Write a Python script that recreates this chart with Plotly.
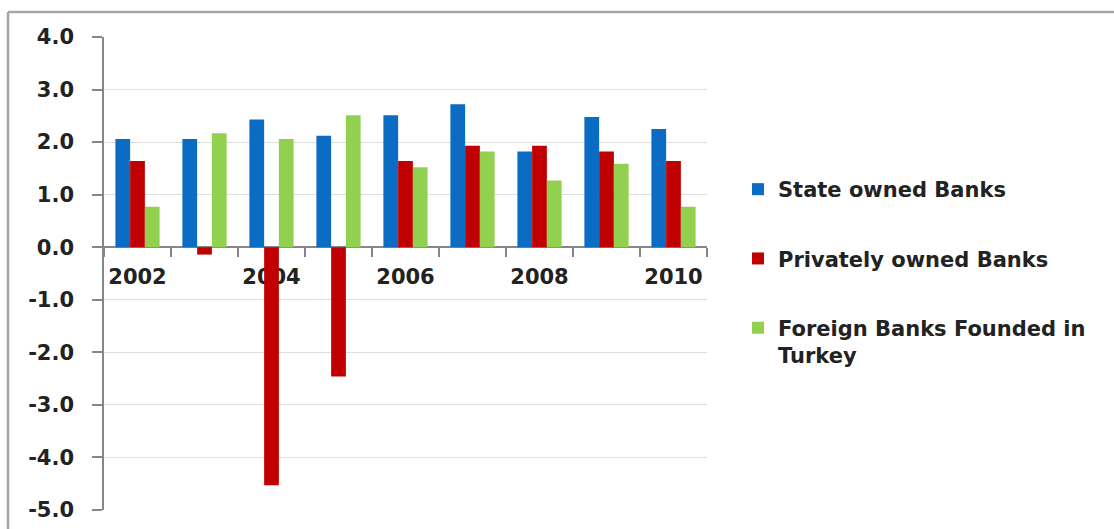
import plotly.graph_objects as go

years = ["2002", "2003", "2004", "2005", "2006", "2007", "2008", "2009", "2010"]
year_labels = ["2002", "", "2004", "", "2006", "", "2008", "", "2010"]
state_owned = [2.06, 2.06, 2.43, 2.12, 2.51, 2.72, 1.82, 2.48, 2.25]
privately_owned = [1.64, -0.14, -4.53, -2.46, 1.64, 1.93, 1.93, 1.82, 1.64]
foreign_founded = [0.77, 2.17, 2.06, 2.51, 1.52, 1.82, 1.27, 1.59, 0.77]
y_ticks = [-5, -4, -3, -2, -1, 0, 1, 2, 3, 4]
y_tick_labels = ["-5.0", "-4.0", "-3.0", "-2.0", "-1.0", "0.0", "1.0", "2.0", "3.0", "4.0"]

series = [
    ("State owned Banks", state_owned, "#0A6CC2"),
    ("Privately owned Banks", privately_owned, "#C00000"),
    ("Foreign Banks Founded in<br>Turkey", foreign_founded, "#92D050"),
]

W, H = 1114, 529
L, R, T, B = 104, 407, 37, 19

fig = go.Figure()
for i, (name, vals, col) in enumerate(series):
    fig.add_trace(go.Bar(x=years, y=vals, name=name, marker_color=col,
                         marker_line_width=0, legendgroup=f"g{i}"))

font = dict(family="DejaVu Sans", size=21, color="#222222", weight="bold")

pw = W - L - R
ph = H - T - B

def px_x(p):
    return (p - L) / pw

def px_y(p):
    return 1 - (p - T) / ph

fig.update_layout(
    width=W, height=H,
    margin=dict(l=L, r=R, t=T, b=B, autoexpand=False),
    paper_bgcolor="white", plot_bgcolor="white",
    barmode="group", bargap=0.34, bargroupgap=0,
    font=font,
    showlegend=True,
    legend=dict(
        xref="container", yref="container",
        x=738 / W, y=1 - 169 / H, xanchor="left", yanchor="top",
        font=font, traceorder="grouped", tracegroupgap=39,
        valign="top", itemwidth=30, bgcolor="rgba(0,0,0,0)",
    ),
    xaxis=dict(
        type="category", tickvals=years, ticktext=year_labels,
        tickson="boundaries", ticks="outside", ticklen=9, tickwidth=1.5,
        tickcolor="#868686", showline=True, linecolor="#868686", linewidth=1.5,
        showgrid=False, anchor="free", position=5 / 9, layer="below traces",
        tickfont=font, tickangle=0, ticklabelstandoff=11,
    ),
    yaxis=dict(
        range=[-5, 4], tickvals=y_ticks, ticktext=y_tick_labels,
        ticks="outside", ticklen=10, tickwidth=1.5, tickcolor="#868686",
        showline=True, linecolor="#868686", linewidth=1.5,
        showgrid=True, gridcolor="#DDDDDD", gridwidth=1.2, zeroline=False,
        tickfont=font, ticklabelstandoff=14,
    ),
    shapes=[
        dict(type="line", xref="paper", yref="paper",
             x0=px_x(8), x1=px_x(W + 5), y0=px_y(12), y1=px_y(12),
             line=dict(color="#A6A6A6", width=2.5)),
        dict(type="line", xref="paper", yref="paper",
             x0=px_x(8), x1=px_x(8), y0=px_y(12), y1=px_y(H + 5),
             line=dict(color="#A6A6A6", width=2.5)),
    ],
)

fig.write_html("out.html")
